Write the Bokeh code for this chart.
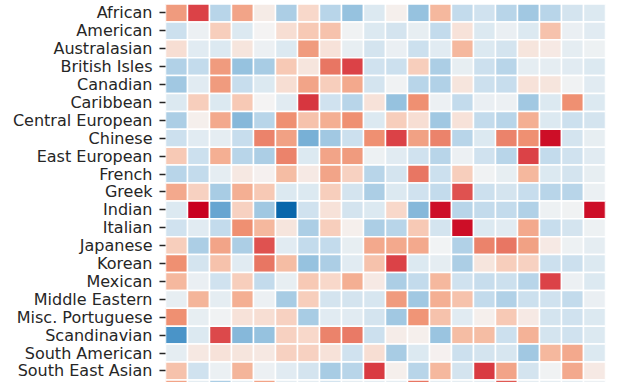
from bokeh.plotting import figure
from bokeh.models import Range1d, FixedTicker, LinearColorMapper, ColumnDataSource
from bokeh.transform import transform
from bokeh.embed import file_html
from bokeh.resources import INLINE

# ---- data (values scaled to [-1, 1]) ----
cuisines = ["African", "American", "Australasian", "British Isles", "Canadian",
            "Caribbean", "Central European", "Chinese", "East European", "French",
            "Greek", "Indian", "Italian", "Japanese", "Korean", "Mexican",
            "Middle Eastern", "Misc. Portuguese", "Scandinavian", "South American",
            "South East Asian", "Spanish"]
columns = list(range(1, 21))

african          = [0.45, 0.78, -0.35, 0.40, 0.05, -0.40, 0.15, -0.35, -0.50, -0.15, 0.03, -0.50, 0.30, -0.30, -0.22, -0.35, -0.45, -0.35, -0.20, -0.15]
american         = [-0.25, -0.05, 0.20, -0.15, 0.00, 0.12, 0.22, 0.25, -0.03, -0.15, -0.20, -0.08, -0.30, 0.10, -0.15, -0.07, -0.15, 0.25, -0.07, -0.12]
australasian     = [0.12, -0.12, -0.15, 0.08, -0.05, -0.15, 0.45, 0.10, -0.08, -0.20, -0.07, -0.25, -0.12, 0.30, -0.15, -0.20, 0.08, 0.06, -0.10, -0.04]
british_isles    = [-0.38, -0.30, 0.45, -0.50, -0.42, 0.22, 0.08, 0.60, 0.78, -0.22, -0.25, 0.20, -0.40, -0.08, -0.25, -0.35, -0.10, -0.10, -0.12, -0.15]
canadian         = [-0.45, -0.12, 0.45, -0.28, -0.15, 0.12, 0.40, 0.20, 0.38, -0.20, -0.03, -0.35, -0.38, 0.08, -0.25, -0.28, 0.10, 0.08, -0.03, -0.12]
caribbean        = [-0.15, 0.20, -0.15, 0.22, 0.00, -0.12, 0.82, -0.22, -0.35, 0.10, -0.50, 0.50, -0.05, -0.30, -0.07, -0.05, -0.45, -0.15, 0.50, -0.15]
central_european = [-0.40, 0.03, 0.38, -0.55, -0.35, 0.50, 0.25, 0.35, 0.50, -0.15, 0.20, 0.12, -0.45, 0.10, -0.30, -0.35, 0.35, -0.15, -0.25, -0.20]
chinese          = [-0.25, -0.12, -0.10, -0.28, 0.55, 0.42, -0.60, -0.45, -0.25, 0.50, 0.78, 0.42, 0.55, -0.35, -0.15, 0.55, 0.50, 0.95, -0.20, -0.08]
east_european    = [0.22, -0.25, 0.35, -0.35, -0.40, 0.55, -0.15, 0.40, 0.45, -0.04, -0.12, -0.22, -0.35, -0.05, -0.22, -0.35, 0.78, -0.30, -0.22, -0.12]
french           = [-0.35, -0.30, -0.10, 0.07, 0.02, 0.28, 0.06, 0.40, 0.18, -0.35, -0.20, 0.60, -0.25, 0.20, -0.03, -0.08, 0.30, -0.15, -0.20, -0.08]
greek            = [0.38, 0.18, -0.42, 0.35, 0.22, -0.15, -0.15, 0.20, -0.20, -0.40, -0.15, -0.22, -0.30, 0.72, -0.25, -0.20, -0.28, -0.35, -0.35, -0.06]
indian           = [-0.15, 1.00, -0.65, 0.18, -0.45, -1.00, -0.22, 0.10, -0.20, -0.15, 0.15, -0.55, 0.95, -0.35, -0.30, -0.30, -0.38, -0.04, -0.03, 0.95]
italian          = [-0.22, -0.12, -0.30, 0.50, 0.30, 0.08, -0.40, 0.20, 0.03, -0.40, -0.35, 0.22, -0.20, 0.95, -0.15, -0.12, 0.38, -0.28, -0.20, -0.04]
japanese         = [0.20, -0.40, 0.40, -0.40, 0.72, -0.12, -0.30, -0.30, -0.08, 0.38, 0.38, 0.38, -0.02, -0.38, 0.55, 0.60, 0.42, 0.06, -0.04, -0.10]
korean           = [0.50, -0.20, 0.25, -0.12, 0.60, 0.28, -0.50, -0.40, -0.12, 0.25, 0.78, -0.15, -0.10, -0.40, 0.08, 0.20, 0.18, -0.25, -0.25, -0.15]
mexican          = [0.30, -0.07, -0.22, 0.20, -0.30, -0.08, 0.22, 0.15, 0.35, 0.06, -0.40, -0.30, 0.30, -0.22, -0.28, -0.25, -0.35, 0.78, -0.05, -0.15]
middle_eastern   = [-0.08, 0.32, -0.10, 0.35, -0.05, -0.42, 0.20, -0.20, -0.20, -0.18, 0.45, -0.45, 0.35, 0.25, -0.30, -0.38, -0.25, -0.22, -0.30, -0.07]
misc_portuguese  = [0.50, -0.08, -0.03, 0.10, 0.12, 0.18, -0.42, -0.12, -0.12, -0.20, -0.45, 0.48, 0.25, -0.12, 0.03, 0.22, 0.06, -0.20, -0.22, -0.15]
scandinavian     = [-0.75, -0.15, 0.75, -0.55, -0.50, 0.18, 0.15, 0.55, 0.58, -0.25, 0.04, 0.03, -0.48, 0.28, 0.28, -0.25, 0.33, -0.20, -0.22, -0.15]
south_american   = [-0.10, 0.07, 0.10, 0.08, 0.07, 0.18, 0.18, 0.10, -0.22, 0.12, -0.42, -0.15, 0.02, -0.25, -0.20, -0.18, -0.45, 0.30, 0.38, -0.15]
south_east_asian = [0.25, -0.22, -0.06, 0.32, -0.05, -0.12, -0.20, -0.42, -0.35, 0.80, 0.03, -0.35, 0.30, -0.20, 0.80, 0.40, -0.20, -0.03, 0.38, 0.06]
spanish          = [0.40, -0.10, -0.40, -0.10, 0.40, -0.10, -0.10, -0.20, -0.10, -0.10, -0.10, 0.60, -0.10, -0.10, -0.10, 0.70, -0.10, -0.10, -0.10, -0.05]

row_values = [african, american, australasian, british_isles, canadian, caribbean,
              central_european, chinese, east_european, french, greek, indian,
              italian, japanese, korean, mexican, middle_eastern, misc_portuguese,
              scandinavian, south_american, south_east_asian, spanish]

# ---- diverging red/blue colour scale ----
anchors = [(-1.0, "#0a67ab"), (-0.75, "#4a94c8"), (-0.5, "#96c2df"), (-0.3, "#c3dbec"),
           (-0.15, "#dde9f1"), (0.0, "#f4f4f4"), (0.15, "#f8d9cb"), (0.3, "#f5b89e"),
           (0.5, "#ef9273"), (0.75, "#dd4b4c"), (1.0, "#c9001f")]


def hex2rgb(h):
    return tuple(int(h[k:k + 2], 16) for k in (1, 3, 5))


palette = []
n = 256
for k in range(n):
    t = -1 + 2 * k / (n - 1)
    for (a, ca), (b, cb) in zip(anchors[:-1], anchors[1:]):
        if a <= t <= b:
            f = (t - a) / (b - a)
            ra, rb = hex2rgb(ca), hex2rgb(cb)
            c = tuple(round(ra[m] + f * (rb[m] - ra[m])) for m in range(3))
            palette.append("#%02x%02x%02x" % c)
            break

mapper = LinearColorMapper(palette=palette, low=-1, high=1)

xs, ys, vs = [], [], []
for i, row in enumerate(row_values):
    for j, v in enumerate(row):
        xs.append(columns[j])
        ys.append(i)
        vs.append(v)
src = ColumnDataSource(dict(x=xs, y=ys, v=vs))

p = figure(width=630, height=382, output_backend="svg", toolbar_location=None,
           x_range=Range1d(0.5, 20.5), y_range=Range1d(20.645, -0.6955),
           x_axis_location=None, min_border_left=165, min_border_right=25,
           min_border_top=0, min_border_bottom=0)

p.rect(x="x", y="y", width=1, height=1, source=src,
       fill_color=transform("v", mapper), line_color="white", line_width=1.5)

p.grid.visible = False
p.outline_line_color = None
p.background_fill_color = "white"
p.border_fill_color = "white"

ax = p.yaxis[0]
ax.ticker = FixedTicker(ticks=list(range(len(cuisines))))
ax.major_label_overrides = {i: c for i, c in enumerate(cuisines)}
ax.axis_line_color = None
ax.minor_tick_line_color = None
ax.major_tick_in = 0
ax.major_tick_out = 6
ax.major_tick_line_width = 1.5
ax.major_tick_line_color = "#262626"
ax.major_label_standoff = 7
ax.major_label_text_font = "DejaVu Sans"
ax.major_label_text_font_size = "16px"
ax.major_label_text_color = "#262626"

open("out.html", "w").write(file_html(p, INLINE))
